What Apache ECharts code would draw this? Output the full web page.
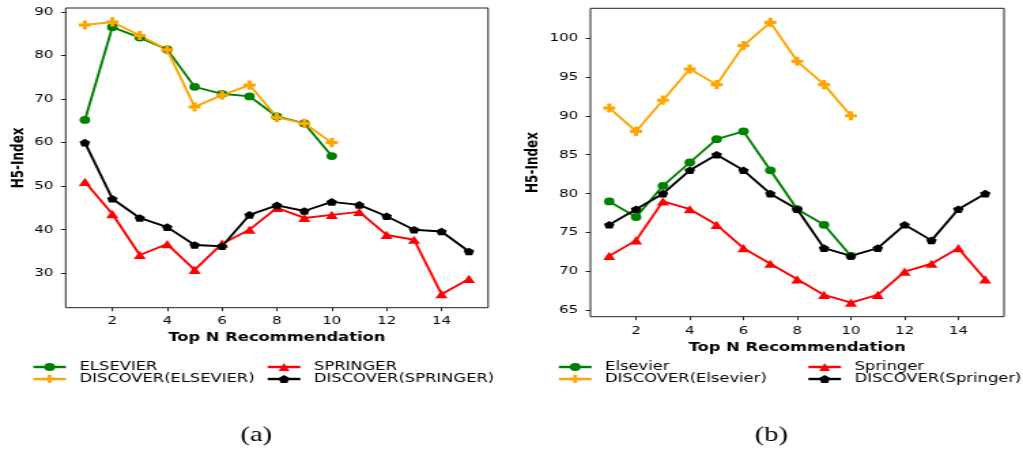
<!DOCTYPE html>
<html>
<head>
<meta charset="utf-8">
<script src="https://cdn.jsdelivr.net/npm/echarts@6/dist/echarts.min.js"></script>
<style>
  html, body { margin: 0; padding: 0; background: #fff; overflow: hidden; }
  /* the figure is laid out on a narrower canvas and widened horizontally */
  #chart { width: 752px; height: 454px; transform: scaleX(1.3604); transform-origin: 0 0; }
</style>
</head>
<body>
<div id="chart"></div>
<script>
// Top-N values on the x axis
const topN = [1, 2, 3, 4, 5, 6, 7, 8, 9, 10, 11, 12, 13, 14, 15];
const xTicks = [2, 4, 6, 8, 10, 12, 14];

// (a) H5-index per venue
const elsevierA     = [65.2, 86.5, 84.1, 81.4, 72.8, 71.2, 70.6, 66.0, 64.4, 56.9];
const discElsevierA = [87.0, 87.7, 84.6, 81.3, 68.2, 70.9, 73.2, 65.8, 64.4, 60.0];
const springerA     = [51.0, 43.6, 34.2, 36.7, 30.8, 36.8, 40.0, 45.0, 42.7, 43.4, 44.1, 38.8, 37.7, 25.2, 28.7];
const discSpringerA = [60.0, 47.1, 42.7, 40.6, 36.5, 36.2, 43.4, 45.6, 44.3, 46.4, 45.7, 43.1, 40.0, 39.6, 35.0];
const yTicksA = [30, 40, 50, 60, 70, 80, 90];

// (b) H5-index per venue
const elsevierB     = [79, 77, 81, 84, 87, 88, 83, 78, 76, 72];
const discElsevierB = [91, 88, 92, 96, 94, 99, 102, 97, 94, 90];
const springerB     = [72, 74, 79, 78, 76, 73, 71, 69, 67, 66, 67, 70, 71, 73, 69];
const discSpringerB = [76, 78, 80, 83, 85, 83, 80, 78, 73, 72, 73, 76, 74, 78, 80];
const yTicksB = [65, 70, 75, 80, 85, 90, 95, 100];

const GREEN = '#008000', ORANGE = '#FFA500', RED = '#FF0000', BLACK = '#000000';
const PLUS = 'path://M3.3,0H6.7V3.3H10V6.7H6.7V10H3.3V6.7H0V3.3H3.3Z';
const PENTAGON = 'path://M5,0L10,3.8L8.1,10L1.9,10L0,3.8Z';

const pairs = ys => ys.map((y, i) => [topN[i], y]);

function line(name, ys, idx, color, symbol, size) {
  return {
    name, type: 'line', xAxisIndex: idx, yAxisIndex: idx,
    data: pairs(ys), symbol, symbolSize: size, showSymbol: true,
    lineStyle: { color, width: 1.9 }, itemStyle: { color },
    emphasis: { disabled: true }
  };
}

const tickFont = { fontFamily: 'DejaVu Sans', fontSize: 11, color: '#000' };
const titleFont = { fontFamily: 'DejaVu Sans', fontSize: 12, fontWeight: 'bold', color: '#000' };

function xAxis(idx, margin, gap) {
  return {
    type: 'value', gridIndex: idx, min: 0.3, max: 15.7,
    name: 'Top N Recommendation', nameLocation: 'middle', nameGap: gap, nameTextStyle: titleFont,
    axisLine: { show: false }, splitLine: { show: false },
    axisTick: { show: true, length: 3.5, lineStyle: { color: '#222' }, customValues: xTicks },
    axisLabel: Object.assign({ margin, customValues: xTicks }, tickFont)
  };
}
function yAxis(idx, min, max, ticks, gap) {
  return {
    type: 'value', gridIndex: idx, min, max,
    name: 'H5-Index', nameLocation: 'middle', nameRotate: 90, nameGap: gap, nameTextStyle: titleFont,
    axisLine: { show: false }, splitLine: { show: false },
    axisTick: { show: true, length: 3.5, lineStyle: { color: '#222' }, customValues: ticks },
    axisLabel: Object.assign({ margin: 9, customValues: ticks }, tickFont)
  };
}
function legend(left, names) {
  return {
    orient: 'vertical', left, top: 361, padding: 0, itemGap: 0,
    itemWidth: 24, itemHeight: 10, data: names,
    lineStyle: { width: 2.4 },
    textStyle: { fontFamily: 'DejaVu Sans', fontSize: 12, lineHeight: 12, color: '#000', padding: [0, 0, 0, 5] }
  };
}

const chart = echarts.init(document.getElementById('chart'));
chart.setOption({
  animation: false,
  backgroundColor: '#fff',
  grid: [
    { left: 48.3, top: 8, width: 310.5, height: 299.7, show: true, borderColor: '#222', borderWidth: 1 },
    { left: 434, top: 8.3, width: 304, height: 308.4, show: true, borderColor: '#222', borderWidth: 1 }
  ],
  xAxis: [xAxis(0, 8, 23.5), xAxis(1, 9, 25.5)],
  yAxis: [yAxis(0, 22.1, 90.9, yTicksA, 28), yAxis(1, 64.2, 103.8, yTicksB, 36)],
  legend: [
    legend(23.3, ['ELSEVIER', 'DISCOVER(ELSEVIER)']),
    legend(195.6, ['SPRINGER', 'DISCOVER(SPRINGER)']),
    legend(409.6, ['Elsevier', 'DISCOVER(Elsevier)']),
    legend(593, ['Springer', 'DISCOVER(Springer)'])
  ],
  series: [
    line('ELSEVIER', elsevierA, 0, GREEN, 'circle', 7.8),
    line('DISCOVER(ELSEVIER)', discElsevierA, 0, ORANGE, PLUS, [8.8, 9.2]),
    line('SPRINGER', springerA, 0, RED, 'triangle', [9, 8.2]),
    line('DISCOVER(SPRINGER)', discSpringerA, 0, BLACK, PENTAGON, [7.8, 7.6]),
    line('Elsevier', elsevierB, 1, GREEN, 'circle', 7.8),
    line('DISCOVER(Elsevier)', discElsevierB, 1, ORANGE, PLUS, [8.8, 9.2]),
    line('Springer', springerB, 1, RED, 'triangle', [9, 8.2]),
    line('DISCOVER(Springer)', discSpringerB, 1, BLACK, PENTAGON, [7.8, 7.6])
  ],
  graphic: [
    { type: 'text', left: 188.2 - 11.5, top: 424.5, style: { text: '(a)', fontFamily: 'Liberation Serif', fontSize: 21, fill: '#000' } },
    { type: 'text', left: 566.2 - 11.5, top: 424.5, style: { text: '(b)', fontFamily: 'Liberation Serif', fontSize: 21, fill: '#000' } }
  ]
});
</script>
</body>
</html>
